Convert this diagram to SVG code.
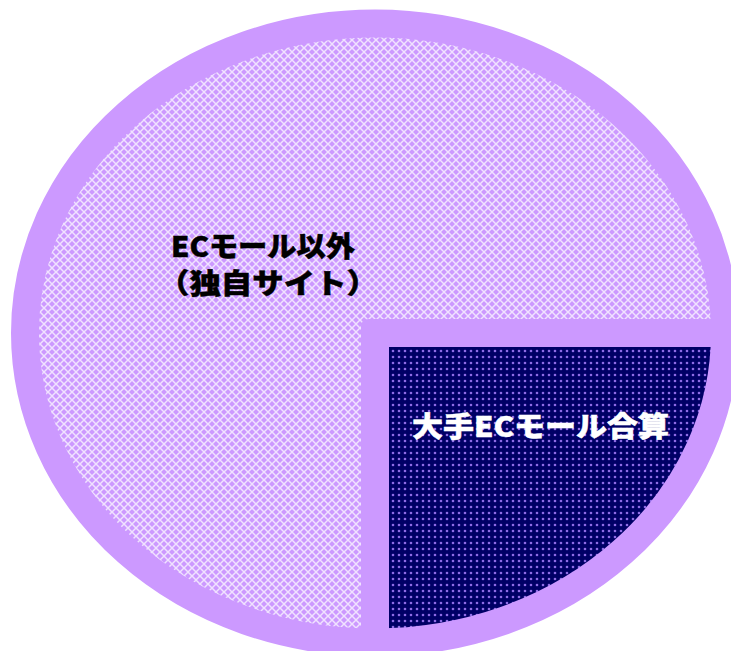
<svg xmlns="http://www.w3.org/2000/svg" width="731" height="651" viewBox="0 0 731 651">
  <defs>
    <pattern id="hatch" width="8" height="8" patternUnits="userSpaceOnUse">
      <rect width="8" height="8" fill="#CC99FF"/>
      <path d="M0,0 L8,8 M8,0 L0,8" stroke="#F0E2FF" stroke-width="1.5"/>
    </pattern>
    <pattern id="dots" width="6" height="6" patternUnits="userSpaceOnUse">
      <rect width="6" height="6" fill="#000066"/>
      <circle cx="3" cy="3" r="1.3" fill="#8E6CE6"/>
    </pattern>
    <style>
      .lbl { font-family: "Noto Sans CJK JP", "Noto Sans", sans-serif; font-weight: 900; font-size: 28px; stroke-width: 0.5; }
      .band { fill: #CC99FF; }
    </style>
  </defs>
  <rect width="731" height="651" fill="#FFFFFF"/>
  <g id="slice-other">
    <path d="M375,333 L725,333 A350,309.5 0 1,0 375,642.5 Z" fill="url(#hatch)"/>
  </g>
  <g id="slice-major">
    <path d="M375,333 L375,642.5 A350,309.5 0 0,0 725,333 Z" fill="url(#dots)"/>
  </g>
  <g id="borders">
    <ellipse cx="375" cy="333" rx="350" ry="309.5" fill="none" stroke="#CC99FF" stroke-width="28"/>
    <path class="band" d="M361,660 L361,327 Q361,319 369,319 L740,319 L740,347 L389,347 L389,660 Z"/>
  </g>
  <g id="label-other">
    <text class="lbl" x="171" y="257" fill="#000000" stroke="#000000" textLength="184" lengthAdjust="spacingAndGlyphs">ECモール以外</text>
    <text class="lbl" x="158" y="294" fill="#000000" stroke="#000000" textLength="220" lengthAdjust="spacingAndGlyphs">（独自サイト）</text>
  </g>
  <g id="label-major">
    <text class="lbl" x="412" y="437" fill="#FFFFFF" stroke="#FFFFFF" textLength="257" lengthAdjust="spacingAndGlyphs">大手ECモール合算</text>
  </g>
</svg>
